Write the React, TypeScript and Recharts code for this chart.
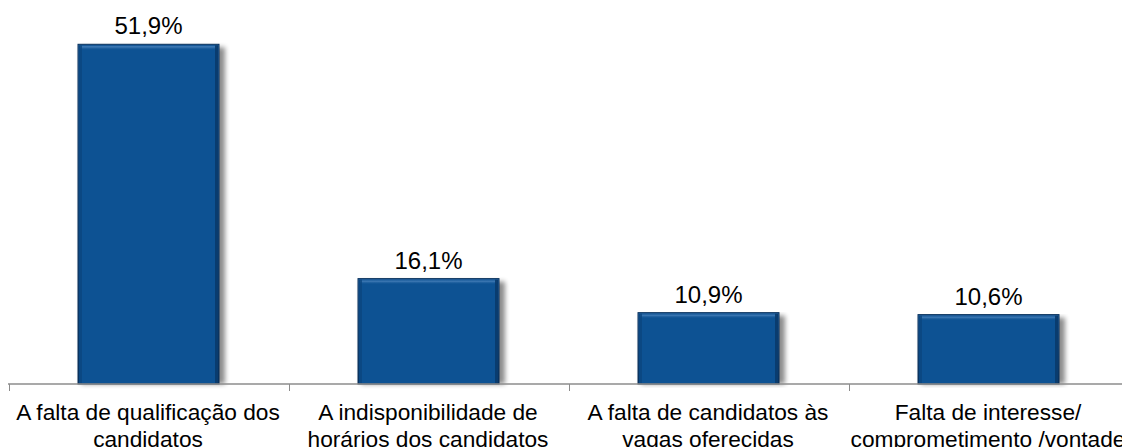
import React from 'react';
import { BarChart, Bar, XAxis, YAxis, LabelList } from 'recharts';

const categories: string[] = [
  'A falta de qualificação dos\ncandidatos',
  'A indisponibilidade de\nhorários dos candidatos',
  'A falta de candidatos às\nvagas oferecidas',
  'Falta de interesse/\ncomprometimento /vontade',
];
const values: number[] = [51.9, 16.1, 10.9, 10.6];
const valueLabels: string[] = ['51,9%', '16,1%', '10,9%', '10,6%'];

const data = categories.map((c, i) => ({ name: c, value: values[i], label: valueLabels[i] }));

const FONT = '"Liberation Sans", Arial, sans-serif';

const CategoryTick = (props: any) => {
  const { x, y, payload } = props;
  const off = payload && typeof payload.offset === 'number' && payload.offset > 0 ? payload.offset : 140;
  const lines = String(payload.value).split('\n');
  return (
    <g>
      <line x1={x - off + 1.5} y1={y - 8} x2={x - off + 1.5} y2={y - 1} stroke="#8c8c8c" strokeWidth={1} />
      <line x1={x + off + 1.5} y1={y - 8} x2={x + off + 1.5} y2={y - 1} stroke="#8c8c8c" strokeWidth={1} />
      <text x={x} y={y} textAnchor="middle" fontFamily={FONT} fontSize={22.7} fill="#000">
        {lines.map((l, i) => (
          <tspan key={i} x={x} dy={i === 0 ? 28 : 27}>{l}</tspan>
        ))}
      </text>
    </g>
  );
};

const BevelBar = (props: any) => {
  const { x, y, width, height } = props;
  if (!height || height <= 0) return null;
  return (
    <g>
      <rect x={x + 3} y={y + 3} width={width + 3} height={height - 3} fill="#000" opacity={0.45} filter="url(#barShadow)" />
      <rect x={x} y={y} width={width} height={height} fill="url(#barEdge)" />
      <rect x={x + 1} y={y + 1} width={width - 2} height={height - 1} fill="#0d5293" />
      <rect x={x + 2} y={y + 2} width={width - 4} height={4} fill="url(#barTop)" />
      <rect x={x + 1} y={y + 1} width={3} height={height - 1} fill="#0b4680" opacity={0.8} />
      <rect x={x + width - 4} y={y + 1} width={3} height={height - 1} fill="#093a6c" opacity={0.9} />
      <rect x={x} y={y} width={width} height={height} fill="none" stroke="#08315c" strokeWidth={1} />
    </g>
  );
};

export default function App() {
  return (
    <div style={{ position: 'absolute', left: 0, top: 0, width: 1122, height: 447, overflow: 'hidden', background: '#fff' }}>
      <BarChart
        width={1128}
        height={470}
        data={data}
        margin={{ top: 24, right: 0, bottom: 56, left: 8 }}
        barSize={141}
      >
        <defs>
          <filter id="barShadow" x="-20%" y="-5%" width="140%" height="110%">
            <feGaussianBlur stdDeviation="2.5" />
          </filter>
          <linearGradient id="barTop" x1="0" y1="0" x2="0" y2="1">
            <stop offset="0%" stopColor="#5a8fc6" stopOpacity={0.9} />
            <stop offset="100%" stopColor="#0d5293" stopOpacity={0} />
          </linearGradient>
          <linearGradient id="barEdge" x1="0" y1="0" x2="0" y2="1">
            <stop offset="0%" stopColor="#2f6aa5" />
            <stop offset="100%" stopColor="#08315c" />
          </linearGradient>
        </defs>
        <YAxis hide domain={[0, 55]} />
        <XAxis
          dataKey="name"
          interval={0}
          height={30}
          axisLine={{ stroke: '#8c8c8c', strokeWidth: 1.5 }}
          tickLine={false}
          tick={<CategoryTick />}
        />
        <Bar dataKey="value" isAnimationActive={false} shape={<BevelBar />}>
          <LabelList dataKey="label" position="top" offset={10} style={{ fontFamily: FONT, fontSize: 24, fill: '#000' }} />
        </Bar>
      </BarChart>
    </div>
  );
}
